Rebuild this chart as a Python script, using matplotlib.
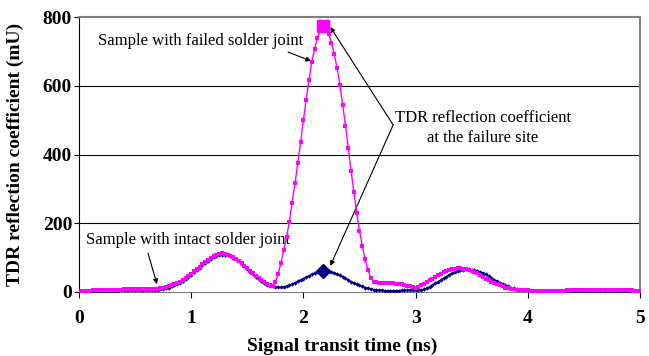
"""
TDR reflection coefficient vs signal transit time
intact vs failed solder joint
"""

import numpy as np
import matplotlib
matplotlib.use('Agg')
import matplotlib.pyplot as plt

# sampling grid (ns), one sample every 0.025 ns
time_ns = np.round(np.arange(201) * 0.025, 3)

# sample with intact solder joint (mU)
intact = [
    0, 1, 1, 2, 2, 2, 3, 3, 3, 3,
    4, 4, 4, 4, 4, 5, 5, 5, 5, 5,
    5, 5, 5, 5, 5, 5, 6, 6, 7, 8,
    9, 11, 13, 16, 19, 23, 27, 32, 38, 44,
    50, 57, 64, 71, 78, 84, 90, 96, 101, 105,
    108, 109, 109, 107, 104, 100, 95, 89, 82, 75,
    67, 59, 52, 45, 38, 32, 26, 21, 18, 16,
    15, 14, 14, 15, 17, 20, 23, 27, 31, 35,
    39, 43, 47, 51, 55, 58, 61, 62, 62, 61,
    59, 56, 53, 49, 45, 40, 35, 30, 26, 22,
    19, 16, 13, 11, 9, 7, 6, 5, 5, 4,
    4, 4, 4, 4, 4, 5, 5, 5, 5, 5,
    5, 5, 6, 8, 11, 15, 20, 25, 30, 35,
    40, 45, 50, 54, 58, 61, 63, 65, 66, 66,
    65, 64, 62, 59, 55, 51, 46, 41, 36, 31,
    27, 23, 19, 16, 13, 11, 9, 7, 6, 5,
    5, 4, 4, 4, 3, 3, 3, 3, 3, 3,
    3, 3, 3, 3, 3, 3, 3, 3, 3, 3,
    3, 3, 3, 3, 3, 3, 3, 3, 3, 3,
    3, 3, 3, 3, 3, 3, 3, 3, 3, 3,
    3,
]

# sample with failed solder joint (mU)
failed = [
    2, 3, 3, 4, 4, 5, 5, 6, 6, 6,
    7, 7, 7, 7, 7, 7, 8, 8, 8, 8,
    8, 8, 8, 8, 8, 8, 9, 9, 10, 11,
    12, 14, 16, 19, 22, 26, 30, 35, 41, 47,
    53, 60, 67, 74, 81, 87, 93, 99, 104, 108,
    111, 112, 111, 109, 106, 102, 97, 91, 84, 77,
    69, 61, 54, 47, 40, 34, 28, 23, 19, 17,
    28, 52, 85, 122, 160, 205, 260, 316, 375, 435,
    500, 560, 617, 670, 706, 740, 762, 775, 770, 752,
    725, 692, 652, 603, 545, 484, 420, 352, 290, 230,
    178, 135, 95, 65, 42, 30, 28, 27, 26, 26,
    26, 25, 25, 24, 23, 22, 20, 18, 16, 14,
    13, 15, 19, 24, 29, 34, 39, 44, 49, 53,
    57, 61, 64, 66, 68, 69, 69, 68, 67, 65,
    62, 58, 54, 49, 44, 39, 34, 30, 26, 22,
    19, 16, 13, 11, 9, 8, 7, 6, 5, 5,
    5, 4, 4, 4, 4, 4, 4, 4, 4, 4,
    4, 4, 4, 4, 5, 5, 5, 5, 5, 5,
    5, 5, 5, 5, 5, 5, 5, 5, 5, 5,
    5, 5, 5, 5, 5, 5, 5, 5, 4, 4,
    4,
]

# failure site (index into the grid)
site_idx = 87

x_ticks = [0, 1, 2, 3, 4, 5]
y_ticks = [0, 200, 400, 600, 800]

plt.rcParams['font.family'] = ['Liberation Serif', 'DejaVu Serif']

fig = plt.figure(figsize=(6.49, 3.56), dpi=100)
ax = fig.add_axes([0.1217, 0.1798, 0.8644, 0.7724])

# grid lines
for y in y_ticks[1:-1]:
    ax.axhline(y, color='black', lw=0.8, zorder=1)

ax.plot(time_ns, intact, color='#000080', lw=1.0, marker='D', ms=2.2,
        markeredgewidth=0, zorder=3)
ax.plot(time_ns, failed, color='#FF00FF', lw=1.0, marker='s', ms=2.4,
        markeredgewidth=0, zorder=4)

# highlighted points at the failure site
ax.plot(time_ns[site_idx], failed[site_idx], marker='s', ms=9,
        color='#FF00FF', zorder=5)
ax.plot(time_ns[site_idx], intact[site_idx], marker='D', ms=7.5,
        color='#000080', zorder=5)

ax.set_xlim(0, 5)
ax.set_ylim(0, 800)
ax.set_xticks(x_ticks)
ax.set_yticks(y_ticks)
ax.tick_params(axis='both', direction='out', labelsize=14, width=0.8)
ax.tick_params(axis='y', length=3.5, pad=1.5)
ax.tick_params(axis='x', length=4, pad=9)
for lbl in ax.get_xticklabels() + ax.get_yticklabels():
    lbl.set_fontweight('bold')

ax.spines['left'].set_color('black')
for s in ['top', 'right', 'bottom']:
    ax.spines[s].set_color('#808080')
ax.spines['top'].set_linewidth(1.5)
ax.spines['right'].set_linewidth(1.5)

ax.set_xlabel('Signal transit time (ns)', fontsize=14, fontweight='bold')
ax.set_ylabel('TDR reflection coefficient (mU)', fontsize=14, fontweight='bold')
ax.xaxis.set_label_coords(0.47, -0.165)
ax.yaxis.set_label_coords(-0.098, 0.5)

arrow = dict(arrowstyle='-|>', color='black', lw=0.8, mutation_scale=7,
             shrinkA=0, shrinkB=0)

ax.text(0.17, 730, 'Sample with failed solder joint', fontsize=12,
        ha='left', va='center')
ax.annotate('', xy=(2.068, 672), xytext=(1.863, 698), arrowprops=arrow)

ax.text(3.60, 477, 'TDR reflection coefficient\nat the failure site',
        fontsize=12, ha='center', va='center', linespacing=1.35)
ax.annotate('', xy=(2.24, 771), xytext=(2.80, 486), arrowprops=arrow)
ax.annotate('', xy=(2.24, 76), xytext=(2.80, 486), arrowprops=arrow)

ax.text(0.06, 151, 'Sample with intact solder joint', fontsize=12,
        ha='left', va='center')
ax.annotate('', xy=(0.695, 23), xytext=(0.615, 113), arrowprops=arrow)

plt.savefig('out.png', dpi=100)
